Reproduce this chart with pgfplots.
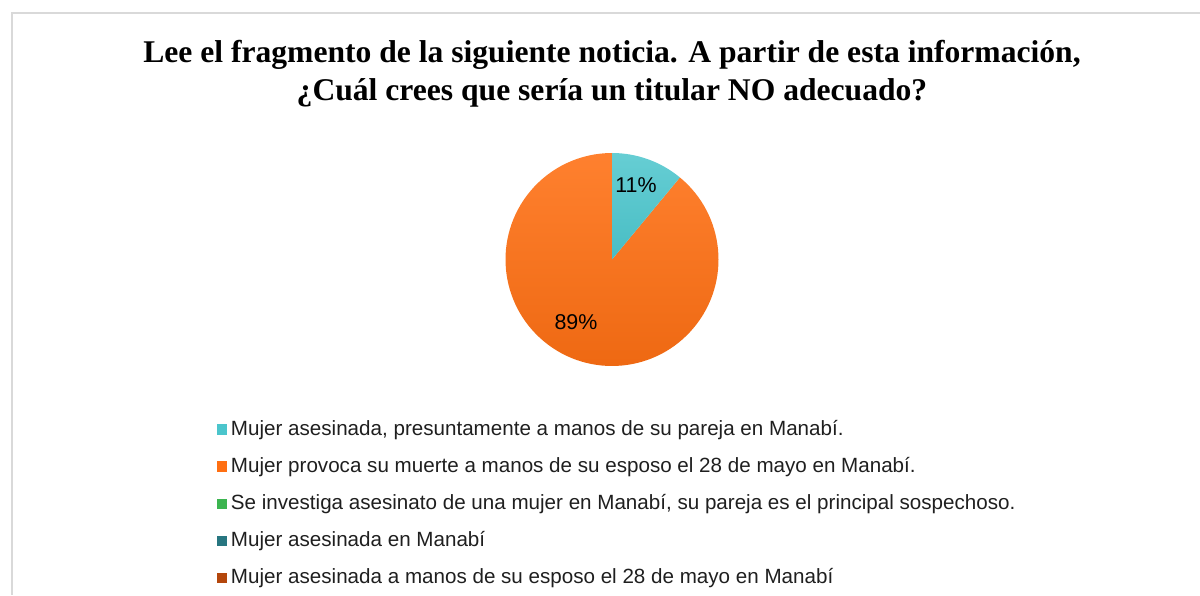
\documentclass[border=0pt]{standalone}
\usepackage{pgfplots}
\pgfplotsset{compat=1.18}
\usepackage{fontspec}
\setmainfont{Liberation Serif}
\newfontfamily\arial{Liberation Sans}
\definecolor{cA}{HTML}{4BC5CC}
\definecolor{cB}{HTML}{FF6F12}
\definecolor{cC}{HTML}{3CB550}
\definecolor{cD}{HTML}{277680}
\definecolor{cE}{HTML}{B4470C}
\definecolor{frame}{HTML}{D9D9D9}
\definecolor{txt}{HTML}{1F1F1F}

% shares of the pie (percent)
\def\pA{11}
\def\pB{89}

\begin{document}
\begin{tikzpicture}
  \begin{axis}[
    width=600pt, height=297.5pt, scale only axis,
    xmin=0, xmax=1200, ymin=0, ymax=595,
    hide axis, clip=false,
    legend style={draw=none, fill=none, font=\arial\fontsize{10.3}{11.5}\selectfont,
      text=txt, at={(0.1805,0.300)}, anchor=north west,
      row sep=5.85pt, inner sep=0pt,
      nodes={inner sep=1.8pt}},
    legend cell align=left,
    legend image code/.code={\fill[#1] (0pt,-2.6pt) rectangle (5.2pt,2.6pt);},
  ]
    \addlegendimage{fill=cA, draw=none}
    \addlegendentry{Mujer asesinada, presuntamente a manos de su pareja en Manabí.}
    \addlegendimage{fill=cB, draw=none}
    \addlegendentry{Mujer provoca su muerte a manos de su esposo el 28 de mayo en Manabí.}
    \addlegendimage{fill=cC, draw=none}
    \addlegendentry{Se investiga asesinato de una mujer en Manabí, su pareja es el principal sospechoso.}
    \addlegendimage{fill=cD, draw=none}
    \addlegendentry{Mujer asesinada en Manabí}
    \addlegendimage{fill=cE, draw=none}
    \addlegendentry{Mujer asesinada a manos de su esposo el 28 de mayo en Manabí}

    \coordinate (BL) at (axis cs:0,0);
    \coordinate (TR) at (axis cs:1200,595);
    % frame
    \draw[frame, line width=1pt] (axis cs:12,0) -- (axis cs:12,582) -- (axis cs:1200,582);

    % title
    \node[font=\bfseries\fontsize{15.8}{19}\selectfont, align=center] at (axis cs:612,521)
      {Lee el fragmento de la siguiente noticia. A partir de esta información,\\
       ¿Cuál crees que sería un titular NO adecuado?};

    % pie
    \coordinate (O) at (axis cs:612,335.5);
    \pgfmathsetmacro{\aEnd}{90-3.6*\pA}
    \pgfmathsetmacro{\bEnd}{\aEnd-3.6*\pB}
    \shade[top color=cB!88!white, middle color=cB, bottom color=cB!93!black]
      (O) -- ++(\aEnd:53.25pt) arc[start angle=\aEnd, end angle=\bEnd, radius=53.25pt] -- cycle;
    \shade[top color=cA!85!white, bottom color=cA!96!black]
      (O) -- ++(90:53.25pt) arc[start angle=90, end angle=\aEnd, radius=53.25pt] -- cycle;

    \node[font=\arial\fontsize{10.7}{12}\selectfont, text=black] at (axis cs:636,410) {\pA\%};
    \node[font=\arial\fontsize{10.7}{12}\selectfont, text=black] at (axis cs:576,273) {\pB\%};
  \end{axis}
  \pgfresetboundingbox
  \path (BL) rectangle (TR);
\end{tikzpicture}
\end{document}
